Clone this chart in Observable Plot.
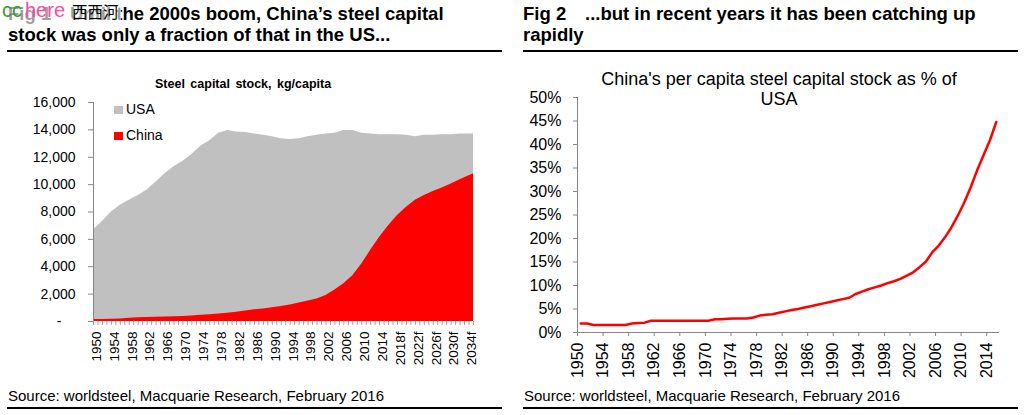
<!DOCTYPE html>
<html><head><meta charset="utf-8">
<script src="https://cdn.jsdelivr.net/npm/d3@7"></script>
<script src="https://cdn.jsdelivr.net/npm/@observablehq/plot@0.6"></script>
<style>
body{margin:0;background:#fff;font-family:"Liberation Sans",Arial,sans-serif;color:#000;}
#root{position:relative;width:1024px;height:415px;overflow:hidden;background:#fff;}
.abs{position:absolute;white-space:nowrap;}
.ftitle{font-weight:bold;font-size:18.5px;line-height:21px;}
.fig{display:inline-block;width:62px;}
.rule{position:absolute;height:2px;background:#000;}
.src{font-size:15px;line-height:17px;}
svg{position:absolute;overflow:visible;}
</style></head><body><div id="root"></div>
<script>
// ---- Fig 1 data: steel capital stock, kg/capita ----
const years1 = [1950,1952,1954,1956,1958,1960,1962,1964,1966,1968,1970,1972,1974,1976,1978,1980,1982,1984,1986,1988,1990,1992,1994,1996,1998,2000,2002,2004,2006,2008,2010,2012,2014,2016,2018,2020,2022,2024,2026,2028,2030,2032,2034,2035];
const usaStock = [6700,7300,8000,8500,8850,9200,9600,10200,10800,11300,11700,12200,12800,13200,13750,13950,13850,13800,13700,13600,13500,13350,13300,13350,13500,13600,13700,13750,13950,13950,13750,13700,13650,13650,13650,13600,13500,13600,13600,13650,13650,13700,13700,13700];
const chinaStock = [150,150,170,190,230,270,290,310,330,350,370,410,450,500,550,600,680,760,850,920,1000,1100,1200,1350,1500,1650,1900,2300,2750,3350,4200,5200,6150,7000,7750,8350,8850,9200,9500,9750,10050,10350,10650,10800];
const yTicks1 = [0,2000,4000,6000,8000,10000,12000,14000,16000];
const xLabelYears1 = [1950,1954,1958,1962,1966,1970,1974,1978,1982,1986,1990,1994,1998,2002,2006,2010,2014,2018,2022,2026,2030,2034];
const firstForecastYear = 2016;

// ---- Fig 2 data: China's per capita steel stock as % of USA ----
const years2 = d3.range(1950, 2016);
const ratioPct = [1.9,1.9,1.6,1.6,1.6,1.6,1.6,1.6,1.9,2.0,2.1,2.5,2.5,2.5,2.5,2.5,2.5,2.5,2.5,2.5,2.5,2.8,2.8,2.9,3.0,3.0,3.0,3.2,3.6,3.8,3.9,4.2,4.5,4.8,5.0,5.3,5.6,5.9,6.2,6.5,6.8,7.1,7.4,8.2,8.7,9.2,9.6,10.0,10.5,10.9,11.4,12.1,12.8,13.9,15.1,17.1,18.5,20.3,22.4,24.9,27.7,30.9,34.5,37.7,40.9,44.8];
const yTicks2 = [0,5,10,15,20,25,30,35,40,45,50];
const xLabelYears2 = [1950,1954,1958,1962,1966,1970,1974,1978,1982,1986,1990,1994,1998,2002,2006,2010,2014];

const root = document.getElementById("root");
function add(html, cls, css){const d=document.createElement("div");d.className="abs "+(cls||"");d.innerHTML=html;Object.assign(d.style,css);root.appendChild(d);return d;}

// ---- headers ----
add('<span class="fig">Fig 1</span>Until the 2000s boom, China\u2019s steel capital<br>stock was only a fraction of that in the US...', "ftitle", {left:"8px", top:"3px"});
add('<span class="fig">Fig 2</span>...but in recent years it has been catching up<br>rapidly', "ftitle", {left:"523px", top:"3px"});
// watermark overlay (semi-opaque, fading the title beneath it)
add('', "", {left:"0px", top:"0px", width:"121px", height:"27px", background:"rgba(255,255,255,0.62)"});
add('<span style="color:#3a9a3a">cc</span><span style="color:#ff4aa5;margin-left:3px">here</span>', "", {left:"2px", top:"0px", fontSize:"20px", lineHeight:"20px"});
add('西西河', "", {left:"72px", top:"3px", fontSize:"15.5px", lineHeight:"17px", fontFamily:"'Noto Sans CJK SC', sans-serif"});

const r1=document.createElement("div");r1.className="rule";Object.assign(r1.style,{left:"7px",top:"50px",width:"495px"});root.appendChild(r1);
const r2=document.createElement("div");r2.className="rule";Object.assign(r2.style,{left:"523px",top:"50px",width:"495px"});root.appendChild(r2);
const r3=document.createElement("div");r3.className="rule";Object.assign(r3.style,{left:"7px",top:"407px",width:"495px"});root.appendChild(r3);
const r4=document.createElement("div");r4.className="rule";Object.assign(r4.style,{left:"523px",top:"407px",width:"495px"});root.appendChild(r4);

add("Source: worldsteel, Macquarie Research, February 2016", "src", {left:"8px", top:"387px"});
add("Source: worldsteel, Macquarie Research, February 2016", "src", {left:"524px", top:"387px"});

// chart titles
add("Steel capital stock, kg/capita", "", {left:"155px", top:"77px", fontWeight:"bold", fontSize:"12.5px", lineHeight:"15px", wordSpacing:"2px"});
add("China's per capita steel capital stock as % of<br>USA", "", {left:"578px", width:"402px", textAlign:"center", top:"69px", fontSize:"18px", lineHeight:"20px"});

// legend
add('<span style="display:inline-block;width:9px;height:8px;background:#c0c0c0;margin-right:3px"></span>USA', "", {left:"114px", top:"101px", fontSize:"14px", lineHeight:"16px"});
add('<span style="display:inline-block;width:9px;height:8px;background:#ff0000;margin-right:3px"></span>China', "", {left:"114px", top:"127px", fontSize:"14px", lineHeight:"16px"});

// ---- Fig 1 chart ----
const stock = years1.map((y,i)=>({year:y, usa:usaStock[i], china:chinaStock[i]}));
const allYears1 = d3.range(1950, 2036);
const left = Plot.plot({
  width:512, height:320, marginLeft:93, marginRight:39, marginTop:42, marginBottom:59,
  style:{fontFamily:"Liberation Sans, Arial, sans-serif", color:"#000", background:"transparent", overflow:"visible"},
  x:{domain:[1950,2035], axis:null},
  y:{domain:[0,16000], axis:null},
  marks:[
    Plot.areaY(stock,{x:"year", y:"usa", fill:"#c0c0c0"}),
    Plot.areaY(stock,{x:"year", y:"china", fill:"#ff0000"}),
    Plot.ruleX([1950],{stroke:"#868686"}),
    Plot.axisY({ticks:yTicks1, label:null, tickFormat:d=> d===0 ? "-\u2002\u2002" : d3.format(",")(d), tickSize:5, tickPadding:13, stroke:"#868686", fill:"#000", fontSize:14}),
    Plot.axisX({ticks:allYears1, label:null, tickFormat:()=>"", tickSize:4, tickPadding:0, stroke:"#a0a0a0"}),
    Plot.axisX({ticks:xLabelYears1, label:null, tickFormat:d=> d>=firstForecastYear ? d+"f" : String(d), tickSize:0, tickPadding:10, tickRotate:-90, dx:3, fill:"#000", fontSize:13.5})
  ]
});
Object.assign(left.style,{left:"0px", top:"60px"});
root.appendChild(left);

// ---- Fig 2 chart ----
const ratio = years2.map((y,i)=>({year:y, pct:ratioPct[i]}));
const right = Plot.plot({
  width:512, height:330, marginLeft:65, marginRight:25, marginTop:37, marginBottom:58,
  style:{fontFamily:"Liberation Sans, Arial, sans-serif", color:"#000", background:"transparent", overflow:"visible"},
  x:{domain:[1950,2016], axis:null},
  y:{domain:[0,50], axis:null},
  marks:[
    Plot.ruleX([1950],{stroke:"#868686"}),
    Plot.ruleY([0],{stroke:"#868686"}),
    Plot.axisY({ticks:yTicks2, label:null, tickFormat:d=>d+"%", tickSize:4, tickPadding:12, stroke:"#868686", fill:"#000", fontSize:16}),
    Plot.axisX({ticks:xLabelYears2, label:null, tickFormat:d=>String(d), tickSize:4, tickPadding:6, tickRotate:-90, stroke:"#868686", fill:"#000", fontSize:16}),
    Plot.lineY(ratio,{x:d=>d.year+0.5, y:"pct", stroke:"#ff0000", strokeWidth:2.5})
  ]
});
Object.assign(right.style,{left:"512px", top:"60px"});
root.appendChild(right);
</script>
</body></html>
